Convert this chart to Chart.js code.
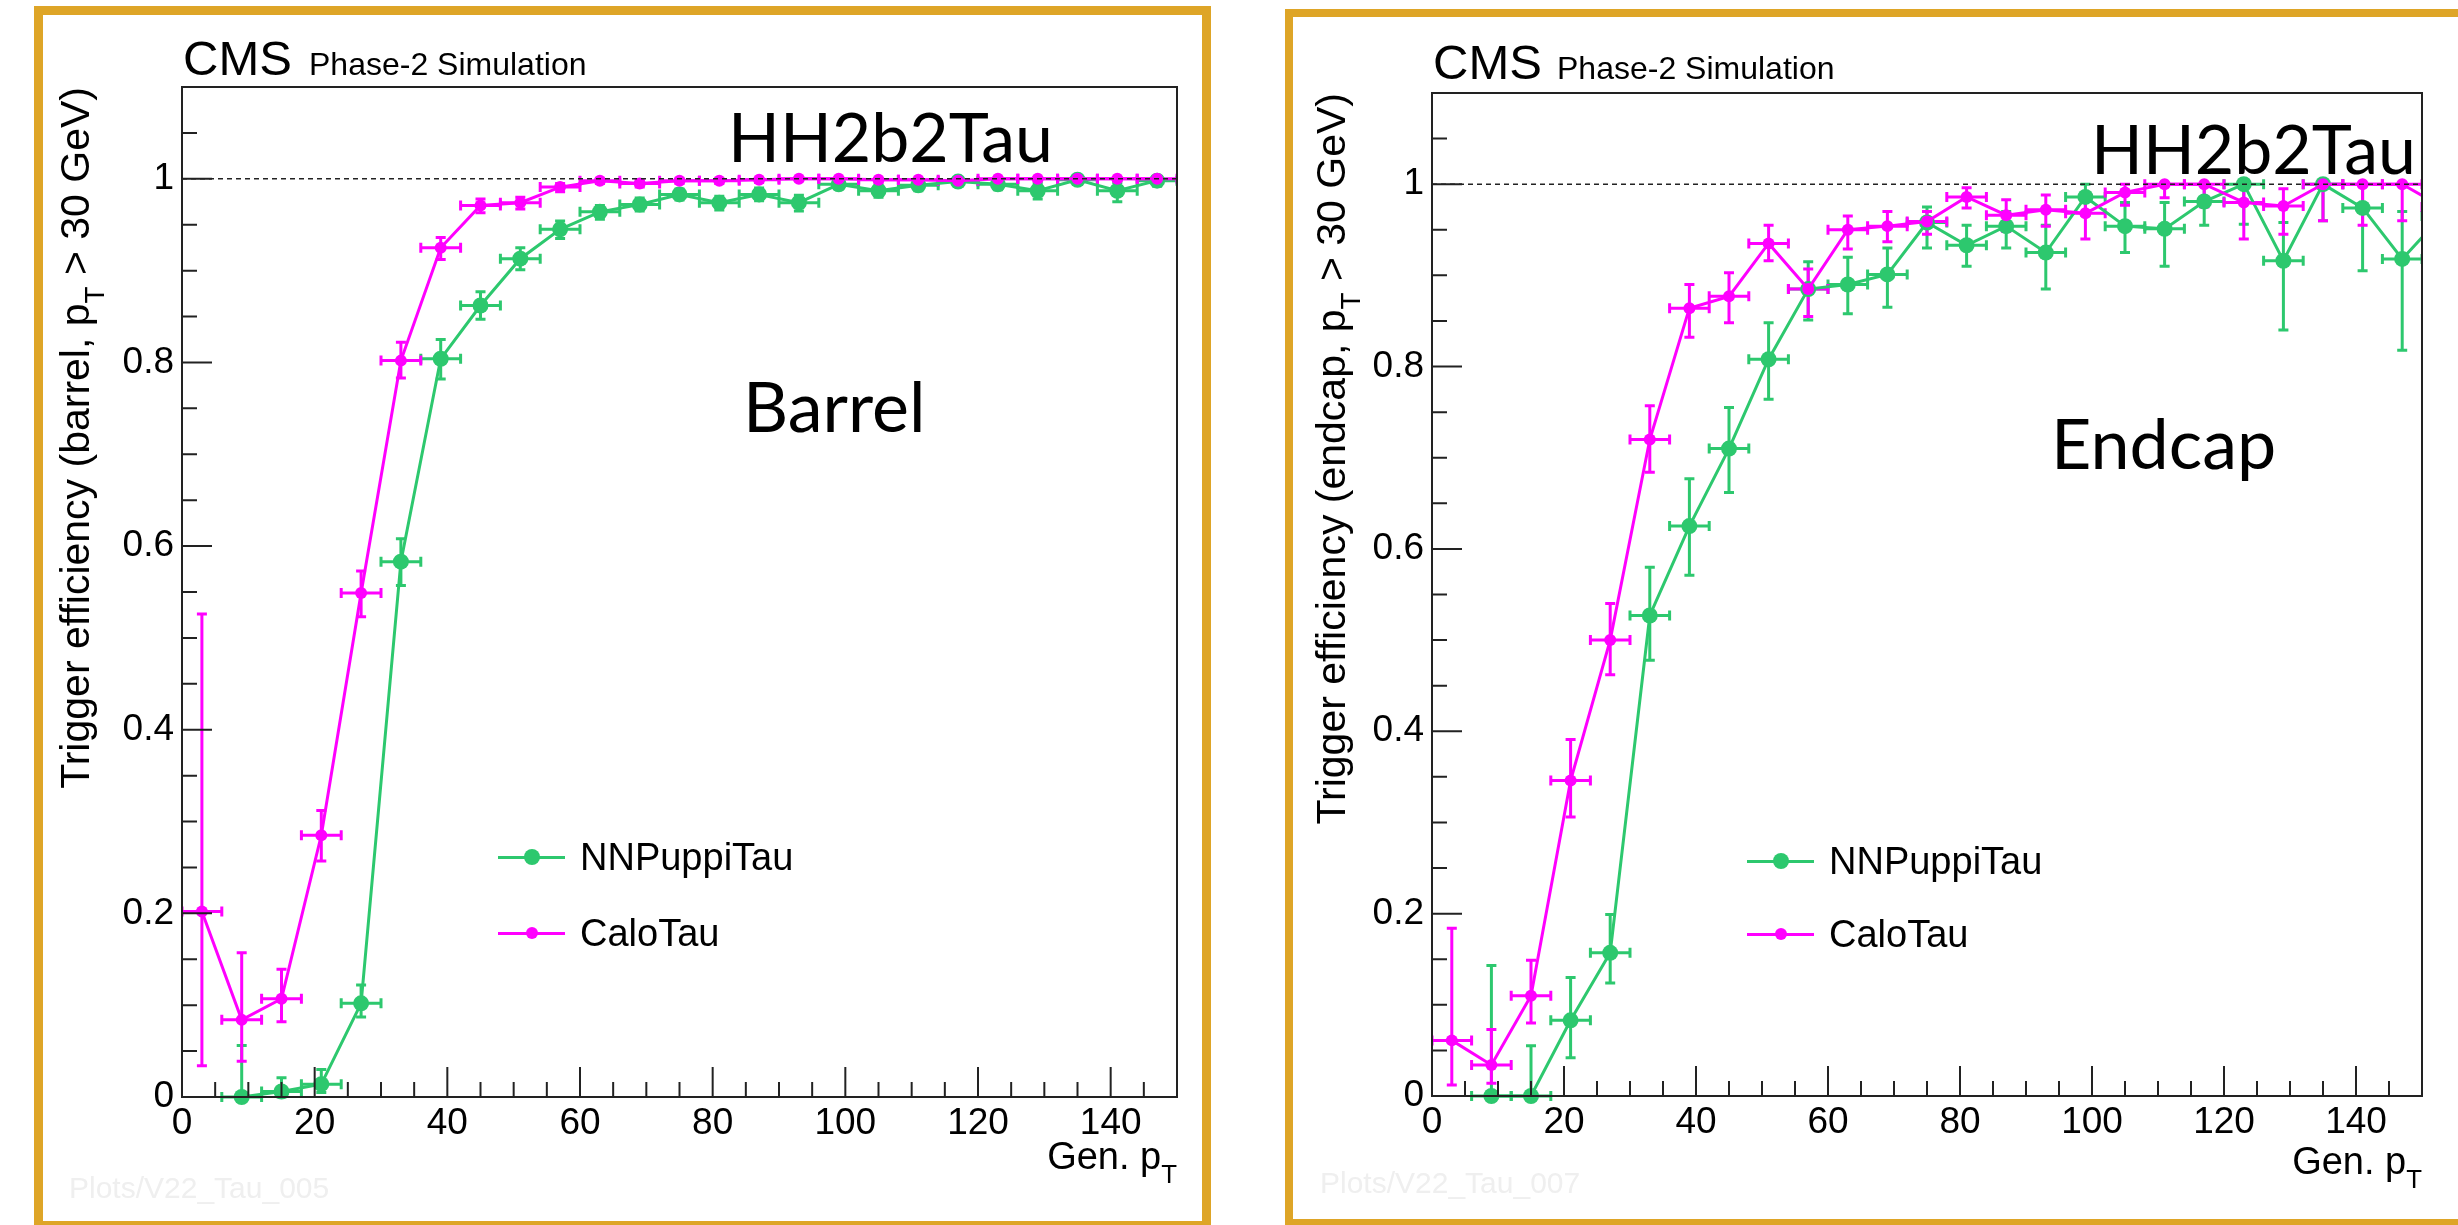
<!DOCTYPE html>
<html>
<head>
<meta charset="utf-8">
<title>HH2b2Tau trigger efficiency</title>
<script src="https://cdn.jsdelivr.net/npm/chart.js@4.4.1/dist/chart.umd.min.js"></script>
<style>
  html, body { margin: 0; padding: 0; background: #fff; }
  body { position: relative; width: 2458px; height: 1225px; overflow: hidden;
         font-family: "Liberation Sans", Arial, sans-serif; }
  .frame { position: absolute; box-sizing: border-box; border: 9px solid #dea527; }
  canvas { position: absolute; }
  .txt { position: absolute; white-space: nowrap; line-height: 1; color: #000; z-index: 2; }
  .slide { font-family: Lato, "Noto Sans", sans-serif; }
  .ytitle { transform-origin: 0 0; transform: rotate(-90deg); text-align: right; width: 800px; }
  .txt sub { font-size: 0.68em; vertical-align: -0.55em; line-height: 0; }
  .mark { color: #efefef; }
  .legend-row { position: absolute; display: flex; align-items: center; height: 38px; z-index: 2;
                font-size: 38px; line-height: 38px; white-space: nowrap; }
  .legend-row .sample { position: relative; display: inline-block; width: 67px; height: 3px; }
  .legend-row .sample i { position: absolute; left: 50%; top: 50%; border-radius: 50%;
                          transform: translate(-50%, -50%); }
  .legend-row .lbl { margin-left: 15px; }
</style>
</head>
<body>

<div class="frame" style="left:34px; top:6px; width:1177px; height:1224px;"></div>
<div class="frame" style="left:1285px; top:9px; width:1200px; height:1218px; border-width:8px;"></div>

<canvas id="barrelChart" width="1160" height="1200" style="left:43px; top:14px;"></canvas>
<canvas id="endcapChart" width="1150" height="1200" style="left:1294px; top:17px;"></canvas>

<!-- left panel labels -->
<div class="txt" style="left:183px; top:34px; font-size:49px;">CMS</div>
<div class="txt" style="left:309px; top:48px; font-size:32px;">Phase-2 Simulation</div>
<div class="txt ytitle" style="left:55px; top:887px; font-size:41px;">Trigger efficiency (barrel, p<sub>T</sub> &gt; 30 GeV)</div>
<div class="txt" style="left:877px; width:300px; text-align:right; top:1137px; font-size:38px;">Gen. p<sub>T</sub></div>
<div class="txt mark" style="left:69px; top:1173px; font-size:30px;">Plots/V22_Tau_005</div>
<div class="txt slide" style="left:728px; top:102px; font-size:68px;">HH2b2Tau</div>
<div class="txt slide" style="left:743px; top:370px; font-size:70px;">Barrel</div>

<!-- right panel labels -->
<div class="txt" style="left:1433px; top:38px; font-size:49px;">CMS</div>
<div class="txt" style="left:1557px; top:52px; font-size:32px;">Phase-2 Simulation</div>
<div class="txt ytitle" style="left:1311px; top:893px; font-size:41px;">Trigger efficiency (endcap, p<sub>T</sub> &gt; 30 GeV)</div>
<div class="txt" style="left:2122px; width:300px; text-align:right; top:1142px; font-size:38px;">Gen. p<sub>T</sub></div>
<div class="txt mark" style="left:1320px; top:1168px; font-size:30px;">Plots/V22_Tau_007</div>
<div class="txt slide" style="left:2091px; top:114px; font-size:68px;">HH2b2Tau</div>
<div class="txt slide" style="left:2051px; top:407px; font-size:70px;">Endcap</div>

<script>
// bin centres of the gen pT histogram (6 GeV bins); the last one sits past the axis end
const ptBins = [3, 9, 15, 21, 27, 33, 39, 45, 51, 57, 63, 69, 75, 81, 87, 93, 99, 105, 111, 117, 123, 129, 135, 141, 147, 153];
const binHalfWidth = 3;
const xTickValues = [0, 20, 40, 60, 80, 100, 120, 140];
const yTickValues = [0, 0.2, 0.4, 0.6, 0.8, 1];
const seriesNames = ["NNPuppiTau", "CaloTau"];

// barrel
const barrelNN     = [null, 0, 0.006, 0.014, 0.102, 0.583, 0.804, 0.862, 0.913, 0.945, 0.964, 0.972, 0.983, 0.974, 0.983, 0.974, 0.994, 0.987, 0.993, 0.997, 0.994, 0.987, 0.999, 0.987, 0.998, null];
const barrelNNLo   = [null, 0, 0, 0.005, 0.087, 0.557, 0.782, 0.847, 0.901, 0.935, 0.956, 0.965, 0.977, 0.966, 0.976, 0.965, 0.989, 0.980, 0.987, 0.992, 0.988, 0.978, 0.994, 0.975, 0.992, null];
const barrelNNHi   = [null, 0.056, 0.021, 0.030, 0.122, 0.608, 0.825, 0.877, 0.925, 0.954, 0.971, 0.979, 0.989, 0.981, 0.990, 0.982, 0.998, 0.993, 0.998, 1.0, 0.999, 0.995, 1.0, 0.996, 1.0, null];
const barrelCalo   = [0.202, 0.084, 0.107, 0.285, 0.549, 0.802, 0.925, 0.971, 0.974, 0.991, 0.998, 0.995, 0.998, 0.998, 0.999, 1.0, 1.0, 0.999, 0.999, 0.998, 1.0, 1.0, 1.0, 1.0, 1.0, null];
const barrelCaloLo = [0.034, 0.039, 0.082, 0.257, 0.523, 0.783, 0.912, 0.963, 0.967, 0.986, 0.995, 0.991, 0.995, 0.995, 0.996, 0.998, 0.998, 0.996, 0.996, 0.995, 0.998, 0.998, 0.998, 0.998, 0.998, null];
const barrelCaloHi = [0.526, 0.157, 0.139, 0.312, 0.573, 0.822, 0.936, 0.978, 0.980, 0.995, 1.0, 0.998, 1.0, 1.0, 1.0, 1.0, 1.0, 1.0, 1.0, 1.0, 1.0, 1.0, 1.0, 1.0, 1.0, null];

// endcap
const endcapNN     = [null, 0, 0, 0.083, 0.157, 0.527, 0.625, 0.710, 0.808, 0.885, 0.890, 0.901, 0.958, 0.933, 0.954, 0.925, 0.986, 0.954, 0.951, 0.981, 1.0, 0.916, 1.0, 0.974, 0.918, 0.965];
const endcapNNLo   = [null, 0, 0, 0.042, 0.124, 0.478, 0.571, 0.662, 0.764, 0.851, 0.858, 0.865, 0.930, 0.910, 0.930, 0.885, 0.966, 0.925, 0.910, 0.955, 0.956, 0.840, 0.960, 0.905, 0.818, 0.930];
const endcapNNHi   = [null, 0.143, 0.055, 0.130, 0.199, 0.580, 0.677, 0.755, 0.848, 0.915, 0.920, 0.930, 0.975, 0.955, 0.970, 0.955, 1.0, 0.980, 0.980, 1.0, 1.0, 0.958, 1.0, 1.0, 0.970, 0.990];
const endcapCalo   = [0.061, 0.034, 0.110, 0.346, 0.500, 0.720, 0.864, 0.877, 0.935, 0.885, 0.950, 0.954, 0.959, 0.986, 0.966, 0.972, 0.968, 0.991, 1.0, 1.0, 0.980, 0.976, 1.0, 1.0, 1.0, 0.975];
const endcapCaloLo = [0.012, 0.014, 0.080, 0.306, 0.462, 0.684, 0.832, 0.848, 0.916, 0.855, 0.929, 0.937, 0.945, 0.974, 0.948, 0.954, 0.940, 0.977, 0.985, 0.975, 0.940, 0.945, 0.960, 0.955, 0.960, 0.940];
const endcapCaloHi = [0.184, 0.073, 0.149, 0.391, 0.540, 0.757, 0.890, 0.903, 0.955, 0.907, 0.965, 0.970, 0.970, 0.996, 0.983, 0.988, 0.985, 1.0, 1.0, 1.0, 1.0, 0.995, 1.0, 1.0, 1.0, 1.0];

const GREEN = "#2dc86e";
const MAGENTA = "#ff00ff";

Chart.defaults.font.family = "'Liberation Sans', Arial, sans-serif";
Chart.defaults.color = "#000";

function points(vals) {
  return ptBins.map((x, i) => ({ x: x, y: vals[i] }));
}

// ROOT-style error bars with small end caps
const errorBars = {
  id: "errorBars",
  beforeDatasetsDraw(chart) {
    const { ctx, chartArea: a, scales: { x, y } } = chart;
    ctx.save();
    ctx.beginPath();
    ctx.rect(a.left, a.top - 20, a.right - a.left, a.bottom - a.top + 40);
    ctx.clip();
    const c = 5;
    chart.data.datasets.forEach(ds => {
      ctx.strokeStyle = ds.borderColor;
      ctx.lineWidth = 3;
      ds.data.forEach((p, i) => {
        if (p.y == null) return;
        const px = x.getPixelForValue(p.x);
        const py = y.getPixelForValue(p.y);
        const x0 = x.getPixelForValue(p.x - binHalfWidth);
        const x1 = x.getPixelForValue(p.x + binHalfWidth);
        const yl = y.getPixelForValue(ds.errLow[i]);
        const yh = y.getPixelForValue(ds.errHigh[i]);
        ctx.beginPath();
        ctx.moveTo(x0, py); ctx.lineTo(x1, py);
        ctx.moveTo(x0, py - c); ctx.lineTo(x0, py + c);
        ctx.moveTo(x1, py - c); ctx.lineTo(x1, py + c);
        ctx.moveTo(px, yl); ctx.lineTo(px, yh);
        ctx.moveTo(px - c, yl); ctx.lineTo(px + c, yl);
        ctx.moveTo(px - c, yh); ctx.lineTo(px + c, yh);
        ctx.stroke();
      });
    });
    ctx.restore();
  }
};

// frame box, inward major/minor ticks and the dotted line at 1
const rootFrame = {
  id: "rootFrame",
  afterDatasetsDraw(chart) {
    const { ctx, chartArea: a, scales: { x, y } } = chart;
    ctx.save();
    ctx.strokeStyle = "#222";

    ctx.setLineDash([5, 4]);
    ctx.lineWidth = 1.6;
    const y1 = y.getPixelForValue(1);
    ctx.beginPath(); ctx.moveTo(a.left, y1); ctx.lineTo(a.right, y1); ctx.stroke();
    ctx.setLineDash([]);
    ctx.lineWidth = 2;

    const drawTicks = (scale, horizontal) => {
      const majors = scale.ticks.map(t => t.value);
      const step = (majors[1] - majors[0]) / 4;
      ctx.beginPath();
      for (let k = 0; scale.min + k * step <= scale.max + 1e-9; k++) {
        const v = scale.min + k * step;
        const isMajor = majors.some(m => Math.abs(m - v) < 1e-9);
        const len = isMajor ? 30 : 15;
        const p = scale.getPixelForValue(v);
        if (horizontal) { ctx.moveTo(p, a.bottom); ctx.lineTo(p, a.bottom - len); }
        else { ctx.moveTo(a.left, p); ctx.lineTo(a.left + len, p); }
      }
      ctx.stroke();
    };
    drawTicks(x, true);
    drawTicks(y, false);

    ctx.strokeRect(a.left, a.top, a.right - a.left, a.bottom - a.top);
    ctx.restore();
  }
};

function makePanel(canvasId, nn, calo, box) {
  const datasets = [
    { label: seriesNames[0], vals: nn[0], lo: nn[1], hi: nn[2], color: GREEN, r: 8, order: 1 },
    { label: seriesNames[1], vals: calo[0], lo: calo[1], hi: calo[2], color: MAGENTA, r: 6, order: 0 }
  ].map(s => ({
    label: s.label,
    data: points(s.vals),
    errLow: s.lo,
    errHigh: s.hi,
    order: s.order,
    borderColor: s.color,
    backgroundColor: s.color,
    borderWidth: 3,
    pointRadius: s.r,
    pointHoverRadius: s.r,
    pointBorderWidth: 0,
    tension: 0,
    clip: { left: 0, right: 0, top: 20, bottom: 20 }
  }));

  return new Chart(document.getElementById(canvasId), {
    type: "line",
    data: { datasets: datasets },
    options: {
      responsive: false,
      animation: false,
      events: [],
      layout: { padding: { left: 0, top: box.padTop, right: box.padRight, bottom: 0 } },
      plugins: { legend: { display: false }, tooltip: { enabled: false } },
      scales: {
        x: {
          type: "linear", min: 0, max: 150,
          grid: { display: false, drawTicks: false },
          border: { display: false },
          ticks: { padding: 5, maxRotation: 0, font: { size: 37 }, callback: v => String(v) },
          afterBuildTicks: s => { s.ticks = xTickValues.map(v => ({ value: v })); },
          afterFit: s => { s.height = box.xAxisH; }
        },
        y: {
          type: "linear", min: 0, max: 1.1,
          grid: { display: false, drawTicks: false },
          border: { display: false },
          ticks: { padding: 8, font: { size: 37 }, callback: v => String(Math.round(v * 10) / 10) },
          afterBuildTicks: s => { s.ticks = yTickValues.map(v => ({ value: v })); },
          afterFit: s => { s.width = box.yAxisW; }
        }
      }
    },
    plugins: [errorBars, rootFrame]
  });
}

// html legend built from the chart's own datasets
function addLegend(chart, left, top, rowGap) {
  chart.data.datasets.forEach((ds, i) => {
    const row = document.createElement("div");
    row.className = "legend-row";
    row.style.left = left + "px";
    row.style.top = (top + i * rowGap) + "px";
    const d = 2 * ds.pointRadius;
    row.innerHTML =
      `<span class="sample" style="background:${ds.borderColor}">` +
      `<i style="width:${d}px;height:${d}px;background:${ds.backgroundColor}"></i></span>` +
      `<span class="lbl">${ds.label}</span>`;
    document.body.appendChild(row);
  });
}

const barrel = makePanel("barrelChart",
  [barrelNN, barrelNNLo, barrelNNHi], [barrelCalo, barrelCaloLo, barrelCaloHi],
  { padTop: 73, padRight: 26, yAxisW: 139, xAxisH: 117 });
const endcap = makePanel("endcapChart",
  [endcapNN, endcapNNLo, endcapNNHi], [endcapCalo, endcapCaloLo, endcapCaloHi],
  { padTop: 76, padRight: 22, yAxisW: 138, xAxisH: 121 });

addLegend(barrel, 498, 838, 76);
addLegend(endcap, 1747, 842, 73);
</script>
</body>
</html>
